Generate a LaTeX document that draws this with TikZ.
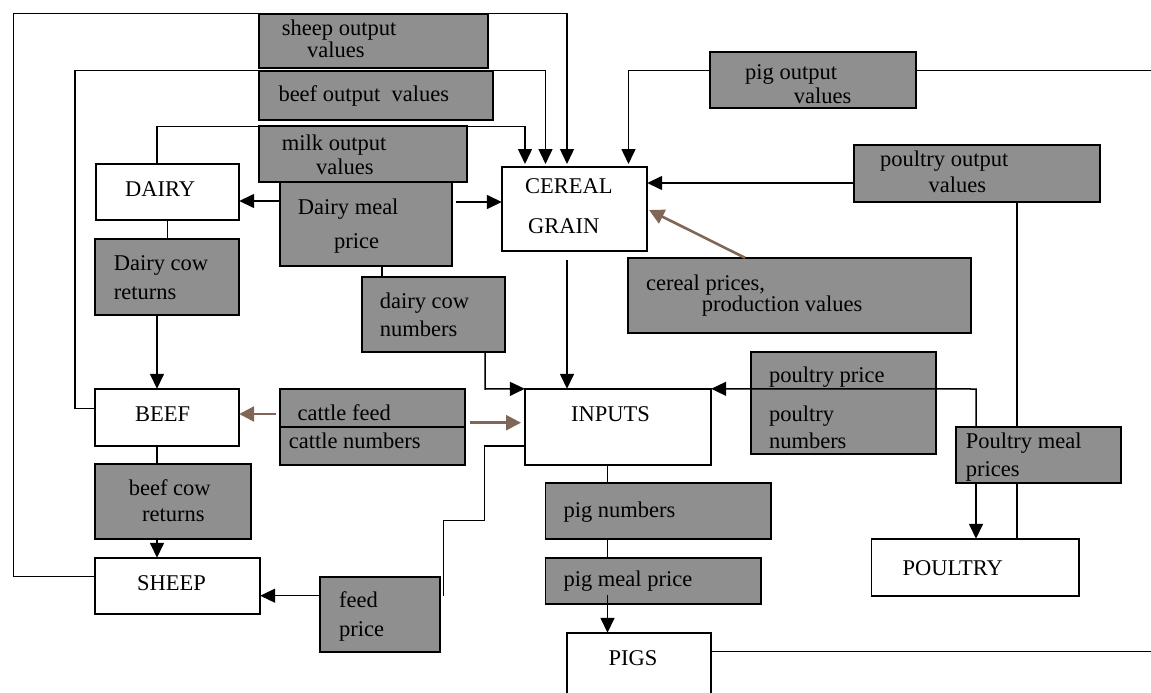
\documentclass[tikz,border=0pt]{standalone}
\usepackage{fontspec}
\setmainfont{Liberation Serif}
\usetikzlibrary{arrows.meta}
\definecolor{boxgray}{RGB}{143,143,143}
\definecolor{brownarr}{RGB}{128,102,86}
\begin{document}
\begin{tikzpicture}[x=1pt,y=-1pt,
  box/.style={inner sep=0pt, anchor=center},
  ln/.style={line width=1.5pt},
  arr/.style={ln, -{Triangle[length=15pt,width=14pt]}},
  barr/.style={line width=2.6pt, draw=brownarr, -{Triangle[length=15pt,width=15pt]}},
  gfill/.style={line width=1.5pt, draw=black, fill=boxgray},
  wfill/.style={line width=1.5pt, draw=black, fill=white},
  txt/.style={anchor=base west, inner sep=0pt, font=\fontsize{22.5}{27}\selectfont}]
\useasboundingbox (0,0) rectangle (1151,693);
\clip (0,0) rectangle (1151,693);

% ---- box shapes (placed first, painted after the background connectors) ----
\path
  node[box, minimum width=229pt, minimum height=54pt] (sheepout) at (373.5,41) {}
  node[box, minimum width=234pt, minimum height=49pt] (beefout) at (376,95.5) {}
  node[box, minimum width=208pt, minimum height=56pt] (milkout) at (363,154) {}
  node[box, minimum width=143pt, minimum height=56pt] (dairy) at (167.5,192) {}
  node[box, minimum width=172pt, minimum height=84pt] (dmp) at (366,224) {}
  node[box, minimum width=145pt, minimum height=84pt] (cereal) at (574.5,209) {}
  node[box, minimum width=206pt, minimum height=56pt] (pigout) at (813,80) {}
  node[box, minimum width=246pt, minimum height=57pt] (poultout) at (977,173.5) {}
  node[box, minimum width=343pt, minimum height=75pt] (cprices) at (799.5,295.5) {}
  node[box, minimum width=144pt, minimum height=76pt] (dcreturns) at (167,277) {}
  node[box, minimum width=143pt, minimum height=75pt] (dcnumbers) at (433.5,314.5) {}
  node[box, minimum width=144pt, minimum height=57pt] (beef) at (167,417.5) {}
  node[box, minimum width=185pt, minimum height=76pt] (cattle) at (372.5,427) {}
  node[box, minimum width=186pt, minimum height=76pt] (inputs) at (618,427) {}
  node[box, minimum width=185pt, minimum height=102pt] (poultprice) at (843.5,403) {}
  node[box, minimum width=165pt, minimum height=56pt] (poultmeal) at (1038.5,455) {}
  node[box, minimum width=156pt, minimum height=75pt] (bcreturns) at (173,501.5) {}
  node[box, minimum width=165pt, minimum height=56pt] (sheep) at (177.5,586) {}
  node[box, minimum width=120pt, minimum height=75pt] (feedprice) at (380,614.5) {}
  node[box, minimum width=225.5pt, minimum height=56pt] (pignumbers) at (658.25,511) {}
  node[box, minimum width=215.5pt, minimum height=46pt] (pigmeal) at (653.25,581) {}
  node[box, minimum width=207.5pt, minimum height=57pt] (poultry) at (975.25,567.5) {}
  node[box, minimum width=144pt, minimum height=87pt] (pigs) at (639,676.5) {};

\coordinate (rtop) at (1151,70.7);
\coordinate (rbot) at (1151,651.7);
\coordinate (feedend) at (443.6,595.7);

% ---- connectors behind boxes ----
\draw[arr] (sheep.west |- 0,576.7) -- (13.5,576.7) -- (13.5,13.7) -- (567,13.7) -- (567,164);
\draw[arr] (beef.west |- 0,408.3) -- (75,408.3) -- (75,70.7) -- (545.5,70.7) -- (545.5,164);
\draw[arr] (157,164) -- (157,126.7) -- (525,126.7) -- (525,164);
\draw[arr] (rtop) -- (628.5,70.7) -- (628.5,164);
\draw[ln] (poultout.south -| 1017,0) -- (poultry.north -| 1017,0);

% ---- boxes painted ----
\foreach \n in {sheepout,beefout,milkout,dmp,pigout,poultout,cprices,dcreturns,dcnumbers,cattle,poultprice,poultmeal,bcreturns,feedprice,pignumbers,pigmeal}
  {\path[gfill] (\n.south west) rectangle (\n.north east);}
\foreach \n in {dairy,cereal,beef,inputs,sheep,poultry}
  {\path[wfill] (\n.south west) rectangle (\n.north east);}
\fill[white] (pigs.south west) rectangle (pigs.north east);
\draw[ln] (pigs.south west) -- (pigs.north west) -- (pigs.north east) -- (pigs.south east);
\draw[ln] (cattle.west |- 0,427) -- (cattle.east |- 0,427);

% ---- connectors on top ----
\draw[arr] (poultout.west |- 0,183) -- (cereal.east |- 0,183);
\draw[arr] (dmp.west |- 0,201) -- (dairy.east |- 0,201);
\draw[arr] (456,202) -- (cereal.west |- 0,202);
\draw[ln] (dmp.south -| 382,0) -- (dcnumbers.north -| 382,0);
\draw[arr] (dcnumbers.south -| 485,0) -- (485,389) -- (inputs.north west);
\draw[arr] (567,260) -- (inputs.north -| 567,0);
\draw[ln] (dairy.south) -- (dcreturns.north -| dairy.south);
\draw[arr] (dcreturns.south -| 157,0) -- (beef.north -| 157,0);
\draw[ln] (beef.south -| 157,0) -- (bcreturns.north -| 157,0);
\draw[arr] (bcreturns.south -| 157,0) -- (sheep.north -| 157,0);
\draw[barr] (275.7,414) -- (beef.east |- 0,414);
\draw[barr] (470,422.7) -- (521,422.7);
\draw[barr] (cprices.north -| 745,0) -- (649,210);
\draw[ln] (inputs.west |- 0,446) -- (484.6,446) -- (484.6,520.3) -- (443.6,520.3) -- (feedend);
\draw[arr] (feedprice.west |- 0,595.7) -- (sheep.east |- 0,595.7);
\draw[arr] (poultmeal.north -| 976,0) -- (976,389) -- (inputs.north east);
\draw[arr] (poultmeal.south -| 976,0) -- (poultry.north -| 976,0);
\draw[ln] (inputs.south -| 607.5,0) -- (pignumbers.north -| 607.5,0);
\draw[ln] (pignumbers.south -| 607.5,0) -- (pigmeal.north -| 607.5,0);
\draw[arr] (607.5,595) -- (pigs.north -| 607.5,0);
\draw[ln] (pigs.east |- rbot) -- (rbot);

% ---- texts ----
\node[txt] (t1) at (281.7,35.5) {sheep output};
\node[txt] (t2) at (307,57.5) {values};
\node[txt] (t3) at (278.3,101.7) {beef output\ \ values};
\node[txt] (t4) at (281.7,150) {milk output};
\node[txt] (t5) at (316,174) {values};
\node[txt] (t6) at (125,196.7) {DAIRY};
\node[txt] (t7) at (297.7,214) {Dairy meal};
\node[txt] (t8) at (334,248) {price};
\node[txt] (t9) at (525,193.3) {CEREAL};
\node[txt] (t10) at (528,233) {GRAIN};
\node[txt] (t11) at (745,79) {pig output};
\node[txt] (t12) at (793.6,103.3) {values};
\node[txt] (t13) at (880,166.7) {poultry output};
\node[txt] (t14) at (928.4,192.7) {values};
\node[txt] (t15) at (113.6,270) {Dairy cow};
\node[txt] (t16) at (113.6,299.3) {returns};
\node[txt] (t17) at (379.6,308.3) {dairy cow};
\node[txt] (t18) at (379.6,336.7) {numbers};
\node[txt] (t19) at (135,421) {BEEF};
\node[txt] (t20) at (297.5,420) {cattle feed};
\node[txt] (t21) at (288.6,448.3) {cattle numbers};
\node[txt] (t22) at (646,290) {cereal prices,};
\node[txt] (t23) at (701.6,311.7) {production values};
\node[txt] (t24) at (571,421) {INPUTS};
\node[txt] (t25) at (768.8,382.7) {poultry price};
\node[txt] (t26) at (768.8,421.7) {poultry};
\node[txt] (t27) at (768.8,448.3) {numbers};
\node[txt] (t28) at (965.7,448.3) {Poultry meal};
\node[txt] (t29) at (965.7,476) {prices};
\node[txt] (t30) at (128.6,495) {beef cow};
\node[txt] (t31) at (142,521.7) {returns};
\node[txt] (t32) at (136.8,590) {SHEEP};
\node[txt] (t33) at (339,607.7) {feed};
\node[txt] (t34) at (339,636.7) {price};
\node[txt] (t35) at (563.4,517.7) {pig numbers};
\node[txt] (t36) at (563.4,586.7) {pig meal price};
\node[txt] (t37) at (902.3,575) {POULTRY};
\node[txt] (t38) at (608.4,665) {PIGS};
\end{tikzpicture}
\end{document}
